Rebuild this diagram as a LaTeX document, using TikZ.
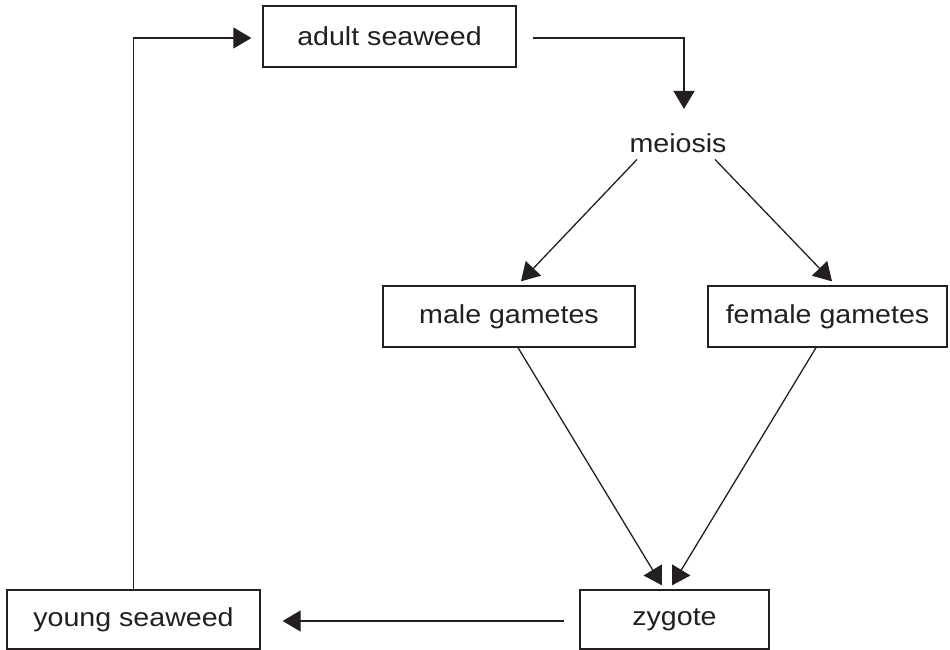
\documentclass[tikz,border=0pt]{standalone}
\usepackage{fontspec}
\setmainfont[FakeStretch=1.1]{Liberation Sans}
\usetikzlibrary{arrows.meta,calc}
\definecolor{ink}{HTML}{231F20}
\tikzset{
  box/.style={draw=ink, line width=1.3pt, inner sep=0pt, text=ink,
              font=\fontsize{26}{30}\selectfont},
  lbl/.style={inner sep=0pt, text=ink, font=\fontsize{26}{30}\selectfont},
  arr/.style={draw=ink, line width=1.3pt, -{Triangle[length=18pt,width=21pt]}},
  ln/.style={draw=ink, line width=1.3pt}
}
\begin{document}
\begin{tikzpicture}[x=1pt,y=-1pt]
\useasboundingbox (0,0) rectangle (950,650);
\node[box, minimum width=253pt, minimum height=61pt] (adult) at (389.5,36.5) {adult seaweed};
\node[lbl, anchor=base] (meiosis) at (678,152) {meiosis};
\node[box, minimum width=252pt, minimum height=61pt] (male) at (509,316.5) {male gametes};
\node[box, minimum width=239pt, minimum height=61pt] (female) at (827.5,316.5) {female gametes};
\node[box, minimum width=189pt, minimum height=59pt] (zygote) at (674.5,619.5) {zygote};
\node[box, minimum width=253pt, minimum height=59pt] (young) at (133.5,619.5) {young seaweed};

\draw[arr] ($(adult.east)+(16,1.5)$) -| ($(meiosis.north)+(6,-24)$);
\draw[arr] ($(meiosis.south)+(-41,7)$) -- ($(male.north)+(12,-4)$);
\draw[arr] ($(meiosis.south)+(37,7)$) -- ($(female.north)+(4.5,-4)$);
\draw[arr] ($(male.south)+(9,0)$) -- ($(zygote.north)+(-12.5,-4)$);
\draw[arr] ($(female.south)+(-11.5,0)$) -- ($(zygote.north)+(-2.5,-4)$);
\draw[arr] ($(zygote.west)+(-15,1.5)$) -- ($(young.east)+(22,1.5)$);
\draw[arr] (young.north) |- ($(adult.west)+(-11,1.5)$);
\end{tikzpicture}
\end{document}
